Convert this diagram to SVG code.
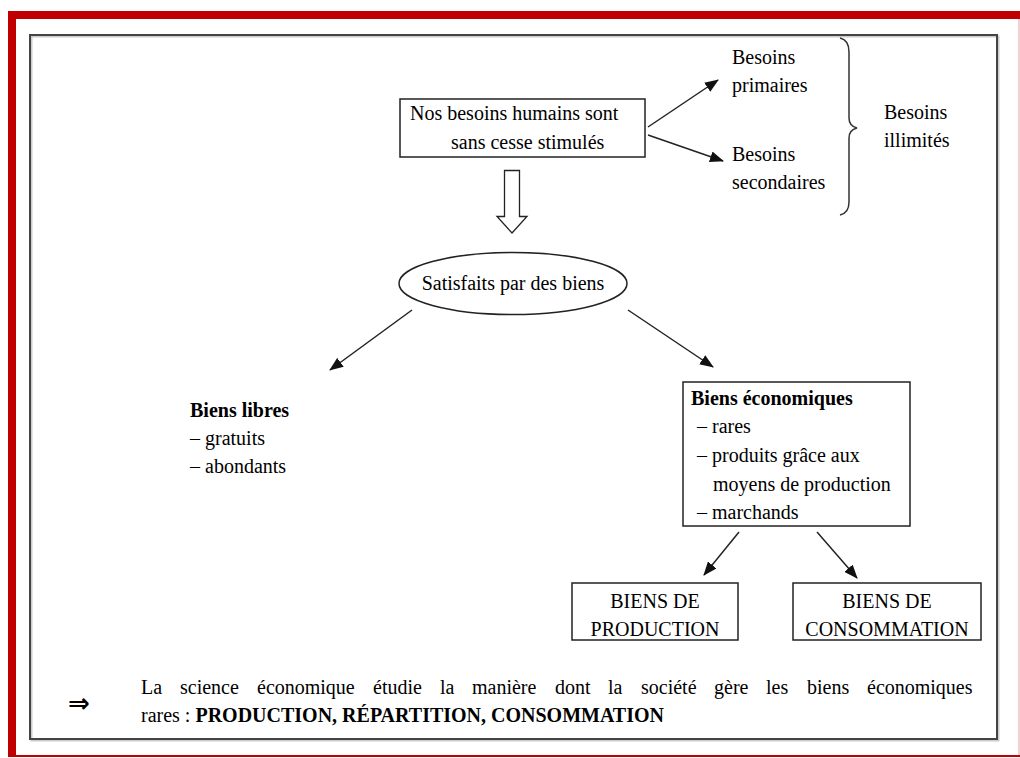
<svg xmlns="http://www.w3.org/2000/svg" width="1020" height="758" viewBox="0 0 1020 758">
<style>
text{font-family:"Liberation Serif","Times New Roman",serif;font-size:20px;fill:#000}
.b{font-weight:bold}
.box{fill:#fff;stroke:#222;stroke-width:1.5}
.ln{stroke:#222;stroke-width:1.5;fill:none;marker-end:url(#ah)}
</style>
<defs>
<marker id="ah" viewBox="0 0 14 11" refX="13" refY="5.5" markerWidth="14" markerHeight="11" markerUnits="userSpaceOnUse" orient="auto">
<path d="M0,0 L14,5.5 L0,11 Z" fill="#111"/>
</marker>
</defs>
<rect width="1020" height="758" fill="#fff"/>
<!-- red frame -->
<rect x="8" y="11" width="1012" height="8" fill="#c00000"/>
<rect x="8" y="11" width="8" height="746" fill="#c00000"/>
<rect x="8" y="755" width="1012" height="2" fill="#c00000"/>
<rect x="1018" y="19" width="2" height="736" fill="#f3d0d0"/>
<!-- inner frame -->
<rect x="31.5" y="36.5" width="967" height="704" fill="none" stroke="#ccc" stroke-width="2"/>
<rect x="30" y="35" width="967" height="704" fill="none" stroke="#444" stroke-width="2"/>

<g id="connectors">
<line class="ln" x1="648" y1="127" x2="718" y2="80"/>
<line class="ln" x1="648" y1="135" x2="723" y2="161"/>
<line class="ln" x1="412" y1="310" x2="330" y2="370"/>
<line class="ln" x1="628" y1="310" x2="713" y2="367"/>
<line class="ln" x1="739" y1="532" x2="704" y2="575"/>
<line class="ln" x1="817" y1="532" x2="857" y2="578"/>
<path d="M504.5,170.5 H519.5 V216.5 H527 L512,233 L497,216.5 H504.5 Z" fill="#fff" stroke="#222" stroke-width="1.3"/>
<path d="M840,38 Q849,40 849,52 V118 Q849,126 857,128 Q849,130 849,138 V202 Q849,213 840,215" fill="none" stroke="#333" stroke-width="1.5"/>
</g>

<g id="n-besoins">
<rect class="box" x="400" y="99" width="245" height="58"/>
<text x="410" y="120">Nos besoins humains sont</text>
<text x="451" y="149">sans cesse stimulés</text>
</g>
<g id="n-primaires">
<text x="732" y="64">Besoins</text>
<text x="732" y="92">primaires</text>
</g>
<g id="n-secondaires">
<text x="732" y="161">Besoins</text>
<text x="732" y="189">secondaires</text>
</g>
<g id="n-illimites">
<text x="884" y="119">Besoins</text>
<text x="884" y="147">illimités</text>
</g>
<g id="n-satisfaits">
<ellipse cx="513" cy="283.5" rx="114" ry="31" fill="#fff" stroke="#222" stroke-width="1.5"/>
<text x="513" y="290" text-anchor="middle">Satisfaits par des biens</text>
</g>
<g id="n-libres">
<text class="b" x="190" y="417">Biens libres</text>
<text x="190" y="445">– gratuits</text>
<text x="190" y="473">– abondants</text>
</g>
<g id="n-economiques">
<rect class="box" x="683" y="382" width="227" height="144"/>
<text class="b" x="691" y="405">Biens économiques</text>
<text x="697" y="433">– rares</text>
<text x="697" y="462">– produits grâce aux</text>
<text x="713" y="491">moyens de production</text>
<text x="697" y="519">– marchands</text>
</g>
<g id="n-production">
<rect class="box" x="572" y="583" width="166" height="57"/>
<text x="655" y="608" text-anchor="middle">BIENS DE</text>
<text x="655" y="636" text-anchor="middle">PRODUCTION</text>
</g>
<g id="n-consommation">
<rect class="box" x="793" y="583" width="188" height="57"/>
<text x="887" y="608" text-anchor="middle">BIENS DE</text>
<text x="887" y="636" text-anchor="middle">CONSOMMATION</text>
</g>
<g id="conclusion">
<text x="68" y="712" style="font-family:'DejaVu Sans',sans-serif;font-size:26px;font-weight:bold">⇒</text>
<text y="694"><tspan x="141">La</tspan><tspan x="180">science</tspan><tspan x="257">économique</tspan><tspan x="373">étudie</tspan><tspan x="440">la</tspan><tspan x="472">manière</tspan><tspan x="555">dont</tspan><tspan x="608">la</tspan><tspan x="641">société</tspan><tspan x="714">gère</tspan><tspan x="766">les</tspan><tspan x="807">biens</tspan><tspan x="867">économiques</tspan></text>
<text x="141" y="722">rares : <tspan class="b">PRODUCTION, RÉPARTITION, CONSOMMATION</tspan></text>
</g>
</svg>
